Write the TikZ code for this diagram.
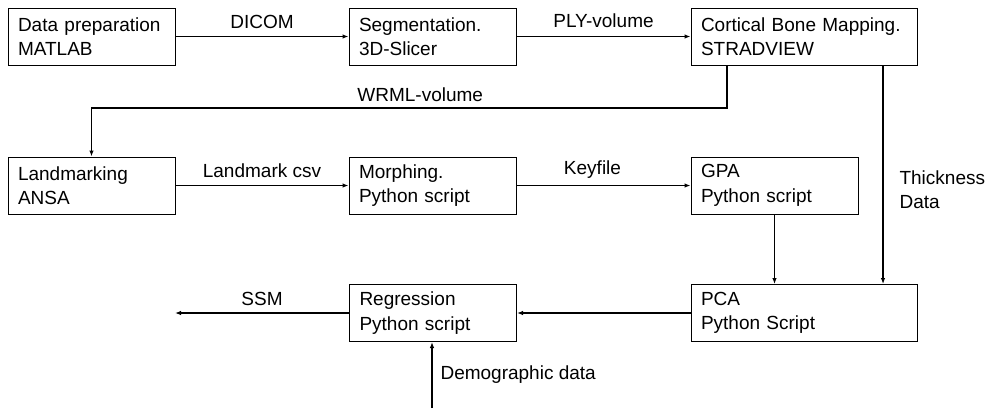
\documentclass[tikz,border=0pt]{standalone}
\usepackage{fontspec}
\setmainfont{Liberation Sans}
\usetikzlibrary{arrows.meta}

\begin{document}
\begin{tikzpicture}[
  x=1pt, y=-1pt,
  box/.style={draw=black, line width=1pt, minimum height=57pt,
              inner xsep=10pt, inner ysep=0pt, align=left},
  arrow/.style={-{Latex[length=6pt,width=4.5pt]}, line width=1.1pt},
  lbl/.style={inner sep=0pt},
  every node/.style={font=\fontsize{19}{24.5}\selectfont}
]

% Parameters
\def\boxA{147pt}   % narrow box (text width)
\def\boxB{206pt}   % wide box (text width)

\useasboundingbox (0,0) rectangle (987,408);

% ==========================================================
% Row 1
% ==========================================================
\node[box, text width=\boxA] (prep) at (91.5,36.5) {Data preparation\\MATLAB};
\node[box, text width=\boxA] (seg)  at (432.5,36.5) {Segmentation.\\3D-Slicer};
\node[box, text width=\boxB] (cbm)  at (804,36.5) {Cortical Bone Mapping.\\STRADVIEW};

\draw[arrow] (prep) -- node[lbl, above=7pt] {DICOM} (seg);
\draw[arrow] (seg) -- node[lbl, above=8pt] {PLY-volume} (cbm);

% ==========================================================
% Row 2
% ==========================================================
\node[box, text width=\boxA] (land)  at (91.5,185.5) {Landmarking\\ANSA};
\node[box, text width=\boxA] (morph) at (432.5,185.5) {Morphing.\\Python script};
\node[box, text width=\boxA] (gpa)   at (774.5,185.5) {GPA\\Python script};

\coordinate (wrmlturn) at (727,108);
\draw[arrow] (cbm.south -| wrmlturn) -- (wrmlturn)
  -- node[lbl, above=6pt, xshift=11pt] {WRML-volume} (wrmlturn -| land.north)
  -- (land.north);

\draw[arrow] (land) -- node[lbl, above=7pt] {Landmark csv} (morph);
\draw[arrow] (morph) -- node[lbl, above=7pt, xshift=-11pt] {Keyfile} (gpa);

% ==========================================================
% Row 3
% ==========================================================
\node[box, text width=\boxA] (reg) at (433,313) {Regression\\Python script};
\node[box, text width=\boxB] (pca) at (804,313) {PCA\\Python Script};

\coordinate (thickx) at (883,180);
\draw[arrow] (cbm.south -| thickx) --
  node[lbl, right=16pt, yshift=-15pt, align=left] {Thickness\\Data}
  (pca.north -| thickx);
\draw[arrow] (gpa.south) -- (gpa.south |- pca.north);

\draw[arrow] (pca) -- (reg);

\coordinate (ssmend) at (175,313);
\draw[arrow] (reg) -- node[lbl, above=7pt] {SSM} (ssmend);

\coordinate (demostart) at (432,408);
\draw[arrow] (demostart) -- node[lbl, right=8pt] {Demographic data} (reg.south -| demostart);

\end{tikzpicture}
\end{document}
